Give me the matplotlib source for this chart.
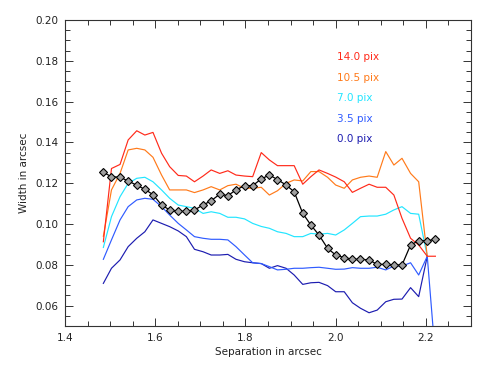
import numpy as np
import matplotlib
matplotlib.use('Agg')
import matplotlib.pyplot as plt
from matplotlib.ticker import MultipleLocator

# separation (arcsec), common grid for all curves
separation = [1.485, 1.503, 1.522, 1.540, 1.559, 1.577, 1.595, 1.614, 1.632, 1.651,
              1.669, 1.687, 1.706, 1.724, 1.743, 1.761, 1.779, 1.798, 1.816, 1.835,
              1.853, 1.871, 1.890, 1.908, 1.927, 1.945, 1.963, 1.982, 2.000, 2.019,
              2.037, 2.055, 2.074, 2.092, 2.111, 2.129, 2.147, 2.166, 2.184, 2.203,
              2.221]

w_14_0 = [0.0913, 0.1272, 0.1292, 0.1412, 0.1457, 0.1436, 0.1449, 0.1347, 0.1281, 0.1238,
          0.1235, 0.1207, 0.1235, 0.1265, 0.1248, 0.1261, 0.1240, 0.1235, 0.1232, 0.1350,
          0.1314, 0.1286, 0.1286, 0.1286, 0.1195, 0.1232, 0.1265, 0.1248, 0.1230, 0.1207,
          0.1155, 0.1175, 0.1195, 0.1180, 0.1180, 0.1142, 0.1028, 0.0930, 0.0897, 0.0842,
          0.0842]
w_10_5 = [0.0940, 0.1167, 0.1248, 0.1363, 0.1371, 0.1363, 0.1327, 0.1240, 0.1167, 0.1167,
          0.1167, 0.1154, 0.1167, 0.1183, 0.1167, 0.1188, 0.1195, 0.1175, 0.1175, 0.1180,
          0.1142, 0.1163, 0.1199, 0.1216, 0.1211, 0.1257, 0.1257, 0.1229, 0.1191, 0.1175,
          0.1216, 0.1229, 0.1235, 0.1229, 0.1355, 0.1289, 0.1322, 0.1248, 0.1207, 0.0842]
w_7_0 = [0.0885, 0.1036, 0.1134, 0.1199, 0.1224, 0.1229, 0.1207, 0.1167, 0.1126, 0.1093,
         0.1085, 0.1077, 0.1052, 0.1060, 0.1052, 0.1033, 0.1033, 0.1025, 0.1003, 0.0988,
         0.0979, 0.0962, 0.0954, 0.0938, 0.0938, 0.0954, 0.0950, 0.0954, 0.0946, 0.0971,
         0.1003, 0.1036, 0.1039, 0.1039, 0.1048, 0.1069, 0.1085, 0.1052, 0.1048, 0.0842]
w_3_5 = [0.0827, 0.0922, 0.1020, 0.1085, 0.1118, 0.1126, 0.1121, 0.1085, 0.1044, 0.1003,
         0.0971, 0.0938, 0.0930, 0.0925, 0.0925, 0.0922, 0.0889, 0.0848, 0.0810, 0.0806,
         0.0791, 0.0775, 0.0778, 0.0783, 0.0783, 0.0786, 0.0788, 0.0783, 0.0778, 0.0779,
         0.0786, 0.0783, 0.0783, 0.0788, 0.0775, 0.0794, 0.0794, 0.0810, 0.0750, 0.0842,
         0.0350]
w_0_0 = [0.0709, 0.0783, 0.0824, 0.0889, 0.0930, 0.0962, 0.1020, 0.1003, 0.0987, 0.0966,
         0.0938, 0.0876, 0.0864, 0.0848, 0.0848, 0.0851, 0.0827, 0.0815, 0.0810, 0.0806,
         0.0783, 0.0796, 0.0783, 0.0750, 0.0704, 0.0712, 0.0714, 0.0698, 0.0668, 0.0668,
         0.0614, 0.0587, 0.0565, 0.0578, 0.0619, 0.0631, 0.0632, 0.0688, 0.0644, 0.0842]
w_ref = [0.1253, 0.1232, 0.1229, 0.1211, 0.1190, 0.1170, 0.1144, 0.1093, 0.1069, 0.1062,
         0.1062, 0.1069, 0.1093, 0.1114, 0.1146, 0.1139, 0.1167, 0.1188, 0.1188, 0.1221,
         0.1240, 0.1218, 0.1191, 0.1158, 0.1052, 0.0995, 0.0946, 0.0881, 0.0848, 0.0835,
         0.0827, 0.0827, 0.0824, 0.0802, 0.0802, 0.0799, 0.0799, 0.0897, 0.0918, 0.0918,
         0.0925]

labels = ["14.0 pix", "10.5 pix", "7.0 pix", "3.5 pix", "0.0 pix"]
series = [w_14_0, w_10_5, w_7_0, w_3_5, w_0_0]
couleurs = ["#ff2a1a", "#ff7a1a", "#22e5ff", "#2f5bff", "#1c1cb0"]

fig = plt.figure(figsize=(4.91, 3.68), dpi=100)
ax = fig.add_axes([0.1324, 0.1141, 0.8269, 0.8316])

# draw from bottom curve to top so red sits on top
for vals, c in zip(series[::-1], couleurs[::-1]):
    ax.plot(separation[:len(vals)], vals, color=c, lw=0.85)

ax.plot(separation, w_ref, color='black', lw=0.9, marker='D', ms=3.6,
        mfc='#a0a0a0', mec='black', mew=0.8)

for k, (lab, c) in enumerate(zip(labels, couleurs)):
    ax.text(0.670, 0.8775 - 0.0668 * k, lab, color=c, fontsize=7.5,
            transform=ax.transAxes, va='center', ha='left')

ax.set_xlim(1.4, 2.3)
ax.set_ylim(0.05, 0.20)
ax.set_xticks([1.4, 1.6, 1.8, 2.0, 2.2])
ax.set_xticklabels(["1.4", "1.6", "1.8", "2.0", "2.2"])
ax.set_yticks([0.06, 0.08, 0.10, 0.12, 0.14, 0.16, 0.18, 0.20])
ax.set_yticklabels(["%.2f" % v for v in [0.06, 0.08, 0.10, 0.12, 0.14, 0.16, 0.18, 0.20]])
ax.xaxis.set_minor_locator(MultipleLocator(0.05))
ax.yaxis.set_minor_locator(MultipleLocator(0.005))
ax.tick_params(which='both', direction='in', top=True, right=True,
               labelsize=7.5, width=0.7, colors='#333333', labelcolor='#222222')
ax.tick_params(which='major', length=6, pad=5)
ax.tick_params(which='minor', length=3.5)
for s in ax.spines.values():
    s.set_linewidth(0.8)
    s.set_color('#333333')

ax.set_xlabel("Separation in arcsec", fontsize=7.5, color='#222222', labelpad=3)
ax.set_ylabel("Width in arcsec", fontsize=7.5, color='#222222', labelpad=4)

fig.savefig("out.png", dpi=100)
